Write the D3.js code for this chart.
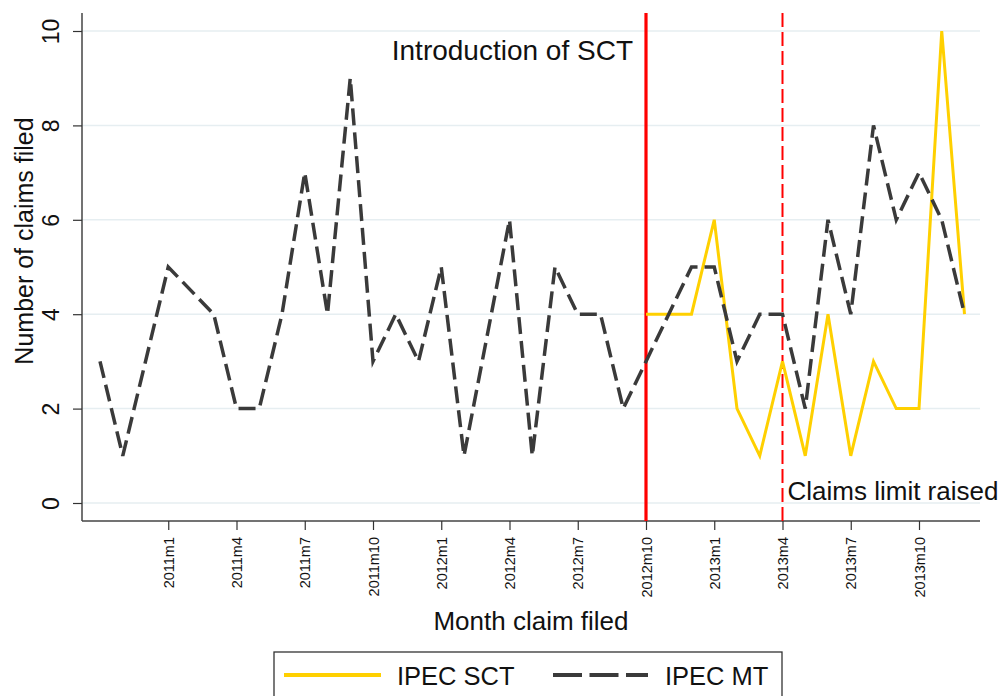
<!DOCTYPE html>
<html>
<head>
<meta charset="utf-8">
<script src="https://cdn.jsdelivr.net/npm/d3@7"></script>
<style>
  body { margin: 0; background: #fff; }
  svg { display: block; font-family: "Liberation Sans", Arial, sans-serif; }
</style>
</head>
<body>
<svg id="chart" width="998" height="696"></svg>
<script>
// ---- Data ----
const months = [
  "2010m10","2010m11","2010m12",
  "2011m1","2011m2","2011m3","2011m4","2011m5","2011m6","2011m7","2011m8","2011m9","2011m10","2011m11","2011m12",
  "2012m1","2012m2","2012m3","2012m4","2012m5","2012m6","2012m7","2012m8","2012m9","2012m10","2012m11","2012m12",
  "2013m1","2013m2","2013m3","2013m4","2013m5","2013m6","2013m7","2013m8","2013m9","2013m10","2013m11","2013m12"
];
const mtValues = [
  3, 1, null,
  5, null, 4, 2, 2, 4, 7, 4, 9, 3, 4, 3,
  5, 1, null, 6, 1, 5, 4, 4, 2, 3, 4, 5,
  5, 3, 4, 4, 2, 6, 4, 8, 6, 7, 6, 4
];
const sctValues = [
  null, null, null,
  null, null, null, null, null, null, null, null, null, null, null, null,
  null, null, null, null, null, null, null, null, null, 4, 4, 4,
  6, 2, 1, 3, 1, 4, 1, 3, 2, 2, 10, 4
];
const xTickLabels = ["2011m1","2011m4","2011m7","2011m10","2012m1","2012m4","2012m7","2012m10","2013m1","2013m4","2013m7","2013m10"];
const yTicks = [0, 2, 4, 6, 8, 10];
const eventLines = [
  { month: "2012m10", label: "Introduction of SCT", dashed: false },
  { month: "2013m4", label: "Claims limit raised", dashed: true }
];
const seriesNames = ["IPEC SCT", "IPEC MT"];

// ---- Layout ----
const svg = d3.select("#chart");
const axisLeft = 82, axisRight = 980, axisBottom = 521, axisTop = 13;
const x = d3.scalePoint().domain(months).range([100, 964.5]);
const y = d3.scaleLinear().domain([0, 10]).range([503, 31]);

const yellow = "#FFD000";
const gray = "#3a3a3a";
const red = "#FF0000";

// gridlines
svg.append("g").selectAll("line").data(yTicks).join("line")
  .attr("x1", axisLeft).attr("x2", axisRight)
  .attr("y1", d => y(d)).attr("y2", d => y(d))
  .attr("stroke", "#e6eef1").attr("stroke-width", 1.5);

// x axis
const xAxis = d3.axisBottom(x).tickValues(xTickLabels).tickSize(9).tickSizeOuter(0);
const gx = svg.append("g").attr("transform", `translate(0,${axisBottom})`).call(xAxis);
gx.select(".domain").attr("d", `M${axisLeft},0H${axisRight}`).attr("stroke", "#444").attr("stroke-width", 1.5);
gx.selectAll(".tick line").attr("stroke", "#333").attr("stroke-width", 1.2);
gx.selectAll(".tick text")
  .attr("font-size", 14.5).attr("fill", "#111")
  .attr("text-anchor", "end")
  .attr("transform", "rotate(-90)")
  .attr("x", -16).attr("y", 0).attr("dy", "0.35em");

// y axis
const yAxis = d3.axisLeft(y).tickValues(yTicks).tickSize(9).tickSizeOuter(0);
const gy = svg.append("g").attr("transform", `translate(${axisLeft},0)`).call(yAxis);
gy.select(".domain").attr("d", `M0,${axisTop}V${axisBottom}`).attr("stroke", "#444").attr("stroke-width", 1.5);
gy.selectAll(".tick line").attr("stroke", "#333").attr("stroke-width", 1.2);
gy.selectAll(".tick text")
  .attr("font-size", 23).attr("fill", "#111")
  .attr("text-anchor", "middle")
  .attr("x", null).attr("y", null).attr("dy", "0.35em")
  .attr("transform", "translate(-31,0) rotate(-90)");

// axis titles
svg.append("text")
  .attr("transform", `translate(24,${241}) rotate(-90)`)
  .attr("text-anchor", "middle").attr("dy", "0.35em")
  .attr("font-size", 25).attr("fill", "#111")
  .text("Number of claims filed");
svg.append("text")
  .attr("x", 531).attr("y", 630)
  .attr("text-anchor", "middle")
  .attr("font-size", 26).attr("fill", "#111")
  .text("Month claim filed");

// event lines
eventLines.forEach(ev => {
  svg.append("line")
    .attr("x1", x(ev.month)).attr("x2", x(ev.month))
    .attr("y1", axisTop).attr("y2", axisBottom)
    .attr("stroke", red)
    .attr("stroke-width", ev.dashed ? 2 : 3.2)
    .attr("stroke-dasharray", ev.dashed ? "14,5" : null);
});
svg.append("text")
  .attr("x", x(eventLines[0].month) - 13).attr("y", 60)
  .attr("text-anchor", "end").attr("font-size", 28).attr("fill", "#111")
  .text(eventLines[0].label);
svg.append("text")
  .attr("x", x(eventLines[1].month) + 5).attr("y", 500)
  .attr("text-anchor", "start").attr("font-size", 26).attr("fill", "#111")
  .text(eventLines[1].label);

// series lines
const line = d3.line().x(d => x(d.m)).y(d => y(d.v));
const mtData = months.map((m, i) => ({ m, v: mtValues[i] })).filter(d => d.v !== null);
const sctData = months.map((m, i) => ({ m, v: sctValues[i] })).filter(d => d.v !== null);

svg.append("path").datum(sctData)
  .attr("d", line).attr("fill", "none")
  .attr("stroke", yellow).attr("stroke-width", 3).attr("stroke-linejoin", "miter");
svg.append("path").datum(mtData)
  .attr("d", line).attr("fill", "none")
  .attr("stroke", gray).attr("stroke-width", 3.5)
  .attr("stroke-dasharray", "17,7");

// legend
const lg = svg.append("g");
lg.append("rect").attr("x", 274).attr("y", 652).attr("width", 508).attr("height", 60)
  .attr("fill", "#fff").attr("stroke", "#333").attr("stroke-width", 1.3);
lg.append("line").attr("x1", 284).attr("x2", 381).attr("y1", 675).attr("y2", 675)
  .attr("stroke", yellow).attr("stroke-width", 4);
lg.append("text").attr("x", 397).attr("y", 685).attr("font-size", 25.5).attr("fill", "#111").text(seriesNames[0]);
lg.append("line").attr("x1", 553).attr("x2", 648).attr("y1", 675).attr("y2", 675)
  .attr("stroke", gray).attr("stroke-width", 4).attr("stroke-dasharray", "29,7.5");
lg.append("text").attr("x", 665).attr("y", 685).attr("font-size", 25.5).attr("fill", "#111").text(seriesNames[1]);
</script>
</body>
</html>
